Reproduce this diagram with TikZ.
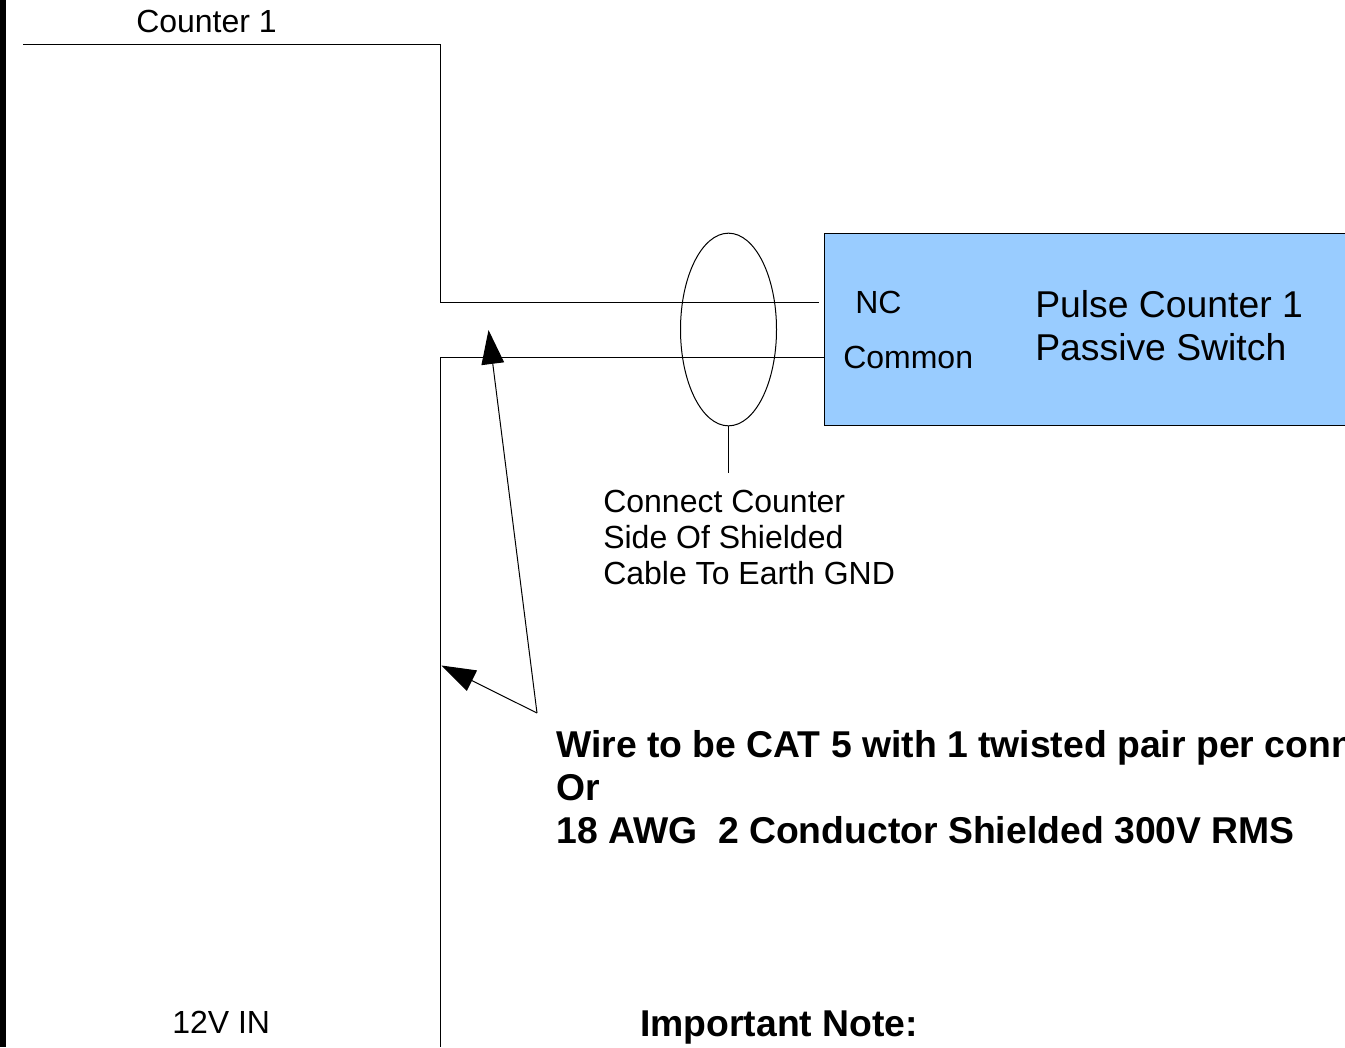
\documentclass[tikz,border=0pt]{standalone}
\usepackage{fontspec}
\setmainfont{Liberation Sans}
\usetikzlibrary{arrows.meta,shapes.geometric}
\definecolor{boxblue}{HTML}{99CCFF}
\tikzset{
  wire/.style={draw=black,line width=0.75pt},
  pointer/.style={wire,-{Triangle[length=25.5pt,width=17pt,fill=black]}},
  devicebox/.style={draw=black,line width=0.75pt,fill=boxblue,rectangle,inner sep=0pt,minimum width=450pt,minimum height=144pt},
  shield/.style={draw=black,line width=0.75pt,ellipse,inner sep=0pt,minimum width=72pt,minimum height=144.5pt},
  small/.style={anchor=base west,inner sep=0pt,font=\fontsize{24pt}{27pt}\selectfont,align=left},
  big/.style={anchor=base west,inner sep=0pt,font=\fontsize{28pt}{32pt}\selectfont,align=left},
  heavy/.style={anchor=base west,inner sep=0pt,font=\fontsize{28pt}{32pt}\selectfont\bfseries,align=left},
}
\begin{document}
\begin{tikzpicture}[x=0.75pt,y=-0.75pt]
\useasboundingbox (0,0) rectangle (1345,1047);
\clip (0,0) rectangle (1345,1047);
\fill[black] (0,0) rectangle (6,1047);
% free ends of the wires
\coordinate (topstart) at (23,44);
\coordinate (topcorner) at (440.5,44);
\coordinate (topelbow) at (440.5,302);
\coordinate (topend) at (818.5,302);
\coordinate (lowelbow) at (440.5,357);
\coordinate (lowend) at (440.5,1047);
\coordinate (boxpin) at (824.5,357);
\coordinate (stemend) at (728.5,473);
\coordinate (fork) at (537,713);
\coordinate (tipa) at (488.5,330);
\coordinate (tipb) at (441.5,665.5);
% blue device box
\node[devicebox] (device) at (1124.5,329.5) {};
% wires
\draw[wire] (topstart) -- (topcorner) -- (topelbow) -- (topend);
\draw[wire] (boxpin) -- (lowelbow) -- (lowend);
% shield
\node[shield] (cable) at (728.5,329.5) {};
\draw[wire] (cable.south) -- (stemend);
% pointers
\draw[pointer] (fork) -- (tipa);
\draw[pointer] (fork) -- (tipb);
% labels
\node[small] (counter) at (136,32) {Counter 1};
\node[small] (twelve) at (172,1033) {12V IN};
\node[small] (nc) at (855,313) {NC};
\node[small] (common) at (843,368) {Common};
\node[big] (pulse) at (1035,317) {Pulse Counter 1};
\node[big] (passive) at (1035,360) {Passive Switch};
\node[small] (conn1) at (603,512) {Connect Counter};
\node[small] (conn2) at (603,548) {Side Of Shielded};
\node[small] (conn3) at (603,584) {Cable To Earth GND};
\node[heavy] (w1) at (556,757) {Wire to be CAT 5 with 1 twisted pair per conn};
\node[heavy] (w2) at (556,800) {Or};
\node[heavy] (w3) at (556,843) {18 AWG\ \ 2 Conductor Shielded 300V RMS};
\node[heavy] (note) at (640,1036) {Important Note:};
\end{tikzpicture}
\end{document}
